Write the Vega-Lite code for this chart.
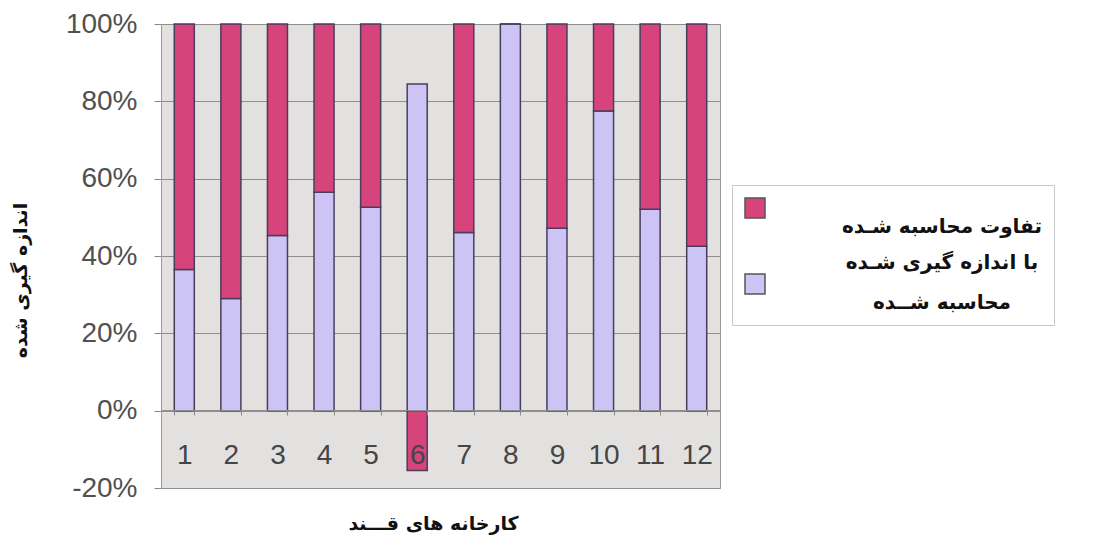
{
  "$schema": "https://vega.github.io/schema/vega-lite/v6.json",
  "width": 559,
  "height": 464,
  "autosize": "none",
  "padding": {"left": 161, "top": 24, "right": 382, "bottom": 55},
  "background": "white",
  "config": {
    "view": {"fill": "#e3e1e0", "stroke": "#9a9a9a", "strokeWidth": 1}
  },
  "data": {
    "values": [
      {"factory": "1", "series": "محاسبه شده", "value": 36.5},
      {"factory": "1", "series": "تفاوت محاسبه شده با اندازه گیری شده", "value": 63.5},
      {"factory": "2", "series": "محاسبه شده", "value": 29.0},
      {"factory": "2", "series": "تفاوت محاسبه شده با اندازه گیری شده", "value": 71.0},
      {"factory": "3", "series": "محاسبه شده", "value": 45.3},
      {"factory": "3", "series": "تفاوت محاسبه شده با اندازه گیری شده", "value": 54.7},
      {"factory": "4", "series": "محاسبه شده", "value": 56.5},
      {"factory": "4", "series": "تفاوت محاسبه شده با اندازه گیری شده", "value": 43.5},
      {"factory": "5", "series": "محاسبه شده", "value": 52.6},
      {"factory": "5", "series": "تفاوت محاسبه شده با اندازه گیری شده", "value": 47.4},
      {"factory": "6", "series": "محاسبه شده", "value": 84.5},
      {"factory": "6", "series": "تفاوت محاسبه شده با اندازه گیری شده", "value": -15.5},
      {"factory": "7", "series": "محاسبه شده", "value": 46.1},
      {"factory": "7", "series": "تفاوت محاسبه شده با اندازه گیری شده", "value": 53.9},
      {"factory": "8", "series": "محاسبه شده", "value": 100.0},
      {"factory": "8", "series": "تفاوت محاسبه شده با اندازه گیری شده", "value": 0.0},
      {"factory": "9", "series": "محاسبه شده", "value": 47.2},
      {"factory": "9", "series": "تفاوت محاسبه شده با اندازه گیری شده", "value": 52.8},
      {"factory": "10", "series": "محاسبه شده", "value": 77.5},
      {"factory": "10", "series": "تفاوت محاسبه شده با اندازه گیری شده", "value": 22.5},
      {"factory": "11", "series": "محاسبه شده", "value": 52.1},
      {"factory": "11", "series": "تفاوت محاسبه شده با اندازه گیری شده", "value": 47.9},
      {"factory": "12", "series": "محاسبه شده", "value": 42.5},
      {"factory": "12", "series": "تفاوت محاسبه شده با اندازه گیری شده", "value": 57.5}
    ]
  },
  "mark": {"type": "bar", "stroke": "#4a3d5c", "strokeWidth": 1.5},
  "encoding": {
    "x": {
      "field": "factory",
      "type": "ordinal",
      "sort": null,
      "scale": {"paddingInner": 0.57, "paddingOuter": 0.285},
      "axis": {
        "orient": "bottom",
        "offset": -78,
        "zindex": 1,
        "labelAngle": 0,
        "labelFont": "Liberation Sans",
        "labelFontSize": 28,
        "labelColor": "#454545",
        "labelPadding": 26,
        "tickBand": "extent",
        "tickSize": 5,
        "tickColor": "#8a8a8a",
        "domainColor": "#8e8e8e",
        "grid": false,
        "title": "کارخانه های قـــند",
        "titleFont": "DejaVu Sans",
        "titleFontSize": 19,
        "titleFontWeight": "bold",
        "titleColor": "#111111",
        "titleX": 272,
        "titleY": 113,
        "titleBaseline": "middle"
      }
    },
    "y": {
      "field": "value",
      "type": "quantitative",
      "stack": "zero",
      "scale": {"domain": [-20, 100], "nice": false},
      "axis": {
        "values": [-20, 0, 20, 40, 60, 80, 100],
        "labelExpr": "datum.value + '%'",
        "labelFont": "Liberation Sans",
        "labelFontSize": 28,
        "labelColor": "#505050",
        "labelPadding": 17,
        "tickSize": 7,
        "tickColor": "#8a8a8a",
        "domainColor": "#9a9a9a",
        "grid": true,
        "gridColor": "#8e8e8e",
        "gridWidth": 1,
        "title": "اندازه گیری شده",
        "titleFont": "DejaVu Sans",
        "titleFontSize": 19,
        "titleFontWeight": "bold",
        "titleColor": "#111111",
        "titleX": -141,
        "titleY": 256,
        "titleAngle": -90,
        "titleAlign": "center",
        "titleBaseline": "middle"
      }
    },
    "color": {
      "field": "series",
      "type": "nominal",
      "scale": {
        "domain": ["تفاوت محاسبه شده با اندازه گیری شده", "محاسبه شده"],
        "range": ["#d6447b", "#cbc4f4"]
      },
      "legend": {
        "orient": "none",
        "legendX": 571,
        "legendY": 161,
        "title": null,
        "symbolType": "square",
        "symbolSize": 400,
        "symbolStrokeColor": "#555555",
        "symbolStrokeWidth": 1.5,
        "symbolOpacity": 1,
        "labelFont": "DejaVu Sans",
        "labelFontSize": 20,
        "labelFontWeight": "bold",
        "labelColor": "#111111",
        "labelAlign": "center",
        "labelBaseline": "top",
        "labelOffset": 176,
        "labelLimit": 400,
        "labelExpr": "datum.label == 'محاسبه شده' ? 'محاسبه شــده' : ['تفاوت محاسبه شـده', 'با اندازه گیری شـده']",
        "padding": 12,
        "rowPadding": -20,
        "strokeColor": "#c8c8c8",
        "fillColor": "white",
        "encode": {
          "labels": {
            "update": {
              "dy": {"value": 9},
              "lineHeight": {"value": 36}
            }
          }
        }
      }
    },
    "order": {"field": "series", "sort": "descending"}
  }
}
